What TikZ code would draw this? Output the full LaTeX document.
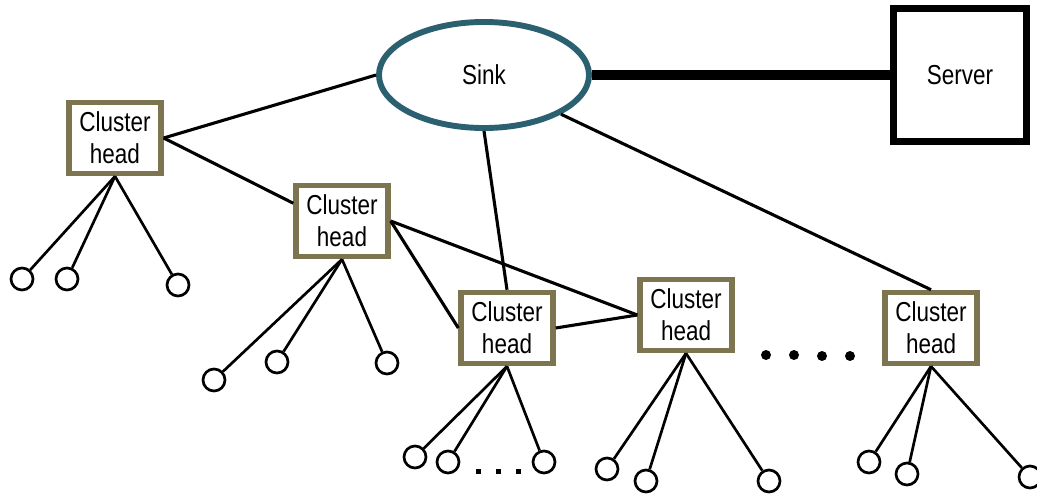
\documentclass[tikz,border=0pt]{standalone}
\usepackage{fontspec}
\setmainfont{Liberation Sans}[FakeStretch=0.82]
\usetikzlibrary{shapes.geometric}

\definecolor{chcol}{RGB}{125,116,80}
\definecolor{sinkcol}{RGB}{42,96,112}

\tikzset{
  chbox/.style={draw=chcol, line width=3.8pt, fill=white, minimum width=2.3cm,
    minimum height=1.78cm, inner sep=0pt, align=center, font=\fontsize{19.5}{23}\selectfont},
  leaf/.style={circle, draw, line width=1.9pt, minimum size=0.55cm, inner sep=0pt},
  link/.style={line width=2.2pt},
  leaflink/.style={line width=1.9pt},
}

\begin{document}
\begin{tikzpicture}[x=0.025cm, y=-0.025cm]

    % Rahmen (Pixelkoordinaten der Vorlage)
    \useasboundingbox (0,0) rectangle (1037,499);

    % 1. Sink und Server
    \node[ellipse, draw=sinkcol, line width=4.2pt, minimum width=5.25cm, minimum height=2.65cm,
          inner sep=0pt, font=\fontsize{19.5}{23}\selectfont] (sink) at (484,75) {Sink};
    \node[draw, line width=4.8pt, minimum size=3.33cm, inner sep=0pt,
          font=\fontsize{19.5}{23}\selectfont] (server) at (960,75) {Server};

    % 2. Cluster heads
    \node[chbox] (ch1) at (115,138) {Cluster\\head};
    \node[chbox] (ch2) at (342,221) {Cluster\\head};
    \node[chbox] (ch3) at (507,328) {Cluster\\head};
    \node[chbox] (ch4) at (686,315) {Cluster\\head};
    \node[chbox] (ch5) at (931,328) {Cluster\\head};

    % 3. Verbindungen
    \draw[line width=6.5pt] (sink.east) -- (server.west);
    \draw[link] (sink.west) -- (ch1.east);
    \draw[link] (ch1.east) -- (ch2.160);
    \draw[link] (ch2.east) -- (ch3.west);
    \draw[link] (ch2.east) -- (ch4.west);
    \draw[link] (ch3.east) -- (ch4.west);
    \draw[link] (sink.south) -- (ch3.north);
    \draw[link] (sink.-27) -- (ch5.north);

    % 4. Sensorknoten
    \node[leaf] (l11) at (22,279) {};
    \node[leaf] (l12) at (67,279) {};
    \node[leaf] (l13) at (178,285) {};
    \node[leaf] (l21) at (214,380) {};
    \node[leaf] (l22) at (277,362) {};
    \node[leaf] (l23) at (387,363) {};
    \node[leaf] (l31) at (415,457) {};
    \node[leaf] (l32) at (448,462) {};
    \node[leaf] (l33) at (544,462) {};
    \node[leaf] (l41) at (607,469) {};
    \node[leaf] (l42) at (646,481) {};
    \node[leaf] (l43) at (769,481) {};
    \node[leaf] (l51) at (869,462) {};
    \node[leaf] (l52) at (907,474) {};
    \node[leaf] (l53) at (1030,477) {};

    \foreach \c in {1,...,5}
      \foreach \l in {1,2,3}
        \draw[leaflink] (ch\c.south) -- (l\c\l);

    % 5. Punkte
    \foreach \x in {478,498,518}
      \fill (\x-2.5,469) rectangle (\x+2.5,474);
    \foreach \x/\y in {766/355, 794/355, 822/356, 850/356}
      \fill (\x,\y) circle (5);

\end{tikzpicture}
\end{document}
